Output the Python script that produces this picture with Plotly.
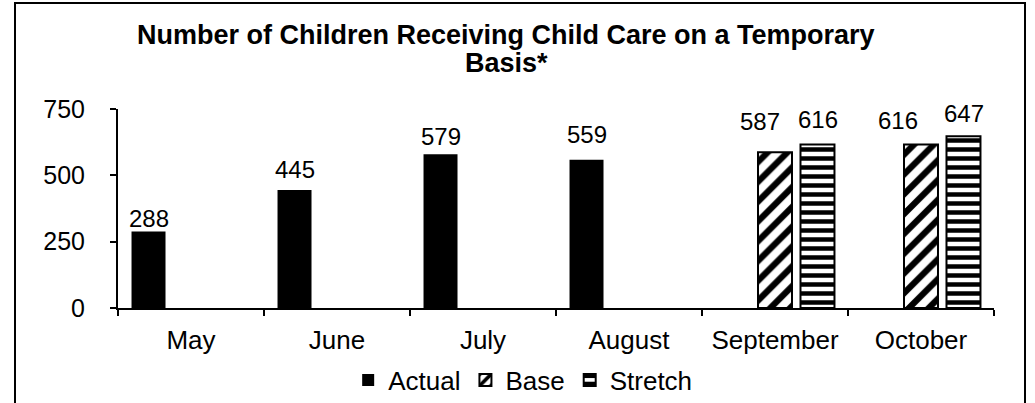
import plotly.graph_objects as go

months = ["May", "June", "July", "August", "September", "October"]
actual = [288, 445, 579, 559, None, None]
base = [None, None, None, None, 587, 616]
stretch = [None, None, None, None, 616, 647]
title_line1 = "Number of Children Receiving Child Care on a Temporary"
title_line2 = "Basis*"
y_ticks = [0, 250, 500, 750]

# label placement tweaks (pixels): horizontal nudge and lift above bar top
actual_lbl_dx = [0, 0, 0, 0, 0, 0]
actual_lbl_lift = [13, 20, 18, 25, 0, 0]
base_lbl_dx = [0, 0, 0, 0, -15, -23]
base_lbl_lift = [0, 0, 0, 0, 31, 24]
stretch_lbl_dx = [0, 0, 0, 0, 0, 0]
stretch_lbl_lift = [0, 0, 0, 0, 25, 23]

FONT = "Liberation Sans, Arial, sans-serif"
FS_NUM = 24
FS_TXT = 26
SLOT = 42.5  # px distance between grouped bar centres

fig = go.Figure()
fig.add_trace(go.Bar(
    name="Actual", x=months, y=actual,
    marker=dict(color="black", line=dict(color="black", width=0)),
))
fig.add_trace(go.Bar(
    name="Base", x=months, y=base,
    marker=dict(color="white", line=dict(color="black", width=2),
                pattern=dict(shape="/", fgcolor="black", bgcolor="white",
                             size=14, solidity=0.45, fillmode="replace")),
))
fig.add_trace(go.Bar(
    name="Stretch", x=months, y=stretch,
    marker=dict(color="white", line=dict(color="black", width=2),
                pattern=dict(shape="-", fgcolor="black", bgcolor="white",
                             size=9, solidity=0.5, fillmode="replace")),
))

for vals, dxs, lifts, slot in [(actual, actual_lbl_dx, actual_lbl_lift, -1),
                               (base, base_lbl_dx, base_lbl_lift, 0),
                               (stretch, stretch_lbl_dx, stretch_lbl_lift, 1)]:
    for m, v, dx, lift in zip(months, vals, dxs, lifts):
        if v is None:
            continue
        fig.add_annotation(x=m, y=v, xref="x", yref="y", text=str(v), showarrow=False,
                           xanchor="center", yanchor="middle",
                           xshift=slot * SLOT + dx, yshift=lift,
                           font=dict(size=FS_NUM, family=FONT, color="black"))

fig.update_layout(
    width=1035, height=403,
    margin=dict(l=118, r=41, t=109, b=95, autoexpand=False),
    paper_bgcolor="white", plot_bgcolor="white",
    font=dict(family=FONT, size=FS_TXT, color="black"),
    barmode="group", bargap=0.127, bargroupgap=0.2,
    legend=dict(orientation="h", xref="container", yref="container",
                x=0.505, xanchor="center", y=(403 - 380) / 403, yanchor="middle",
                font=dict(size=FS_TXT, family=FONT, color="black"),
                itemwidth=30, traceorder="normal", bgcolor="rgba(0,0,0,0)"),
    showlegend=True,
)
fig.add_annotation(text=title_line1, xref="paper", yref="paper",
                   x=(506 - 118) / 876, y=(308 - 35) / 199, xanchor="center", yanchor="middle",
                   showarrow=False, font=dict(size=27, family=FONT, color="black", weight="bold"))
fig.add_annotation(text=title_line2, xref="paper", yref="paper",
                   x=(506 - 118) / 876, y=(308 - 63) / 199, xanchor="center", yanchor="middle",
                   showarrow=False, font=dict(size=27, family=FONT, color="black", weight="bold"))
fig.update_xaxes(
    automargin=False,
    showline=True, linecolor="black", linewidth=2,
    ticks="outside", tickson="boundaries", ticklen=6, tickwidth=2, tickcolor="black",
    showgrid=False, zeroline=False, ticklabelstandoff=8,
    tickfont=dict(size=FS_TXT),
)
fig.update_yaxes(
    automargin=False,
    range=[0, 750], tickvals=y_ticks,
    showline=True, linecolor="black", linewidth=2,
    ticks="outside", ticklen=6, tickwidth=2, tickcolor="black",
    showgrid=False, zeroline=False, ticklabelstandoff=20,
    tickfont=dict(size=25),
)
# chart border
fig.add_shape(type="rect", xref="paper", yref="paper",
              x0=(15 - 118) / 876, x1=(1025 - 118) / 876, y0=(308 - 430) / 199, y1=(308 - 3) / 199,
              line=dict(color="black", width=2), fillcolor="rgba(0,0,0,0)", layer="below")

fig.write_html("out.html", config={"displayModeBar": False},
               post_script="document.body.style.margin='0px';document.body.style.padding='0px';")
